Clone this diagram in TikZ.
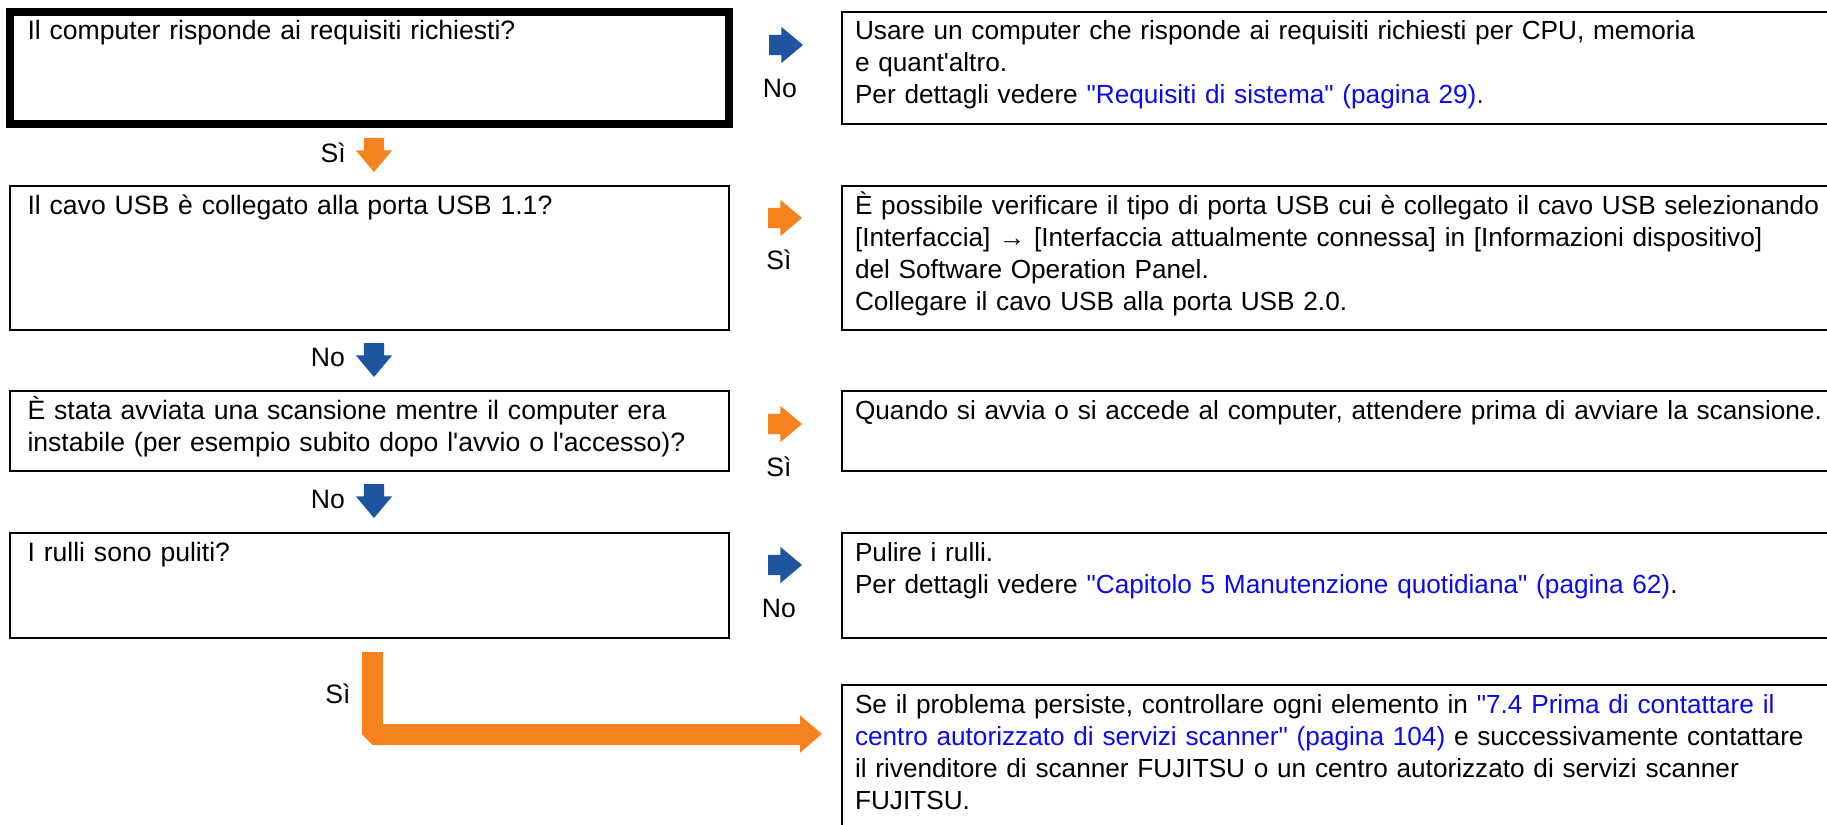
\documentclass[tikz,border=0pt]{standalone}
\usepackage{fontspec}
\setmainfont{Liberation Sans}[Ligatures=TeXOff]
\usepackage{xcolor}
\usetikzlibrary{positioning,arrows.meta,shapes.arrows}
\definecolor{fjblue}{RGB}{31,84,160}
\definecolor{fjorange}{RGB}{245,130,31}
\definecolor{linkblue}{RGB}{10,10,240}
\newcommand{\lnk}[1]{\textcolor{linkblue}{#1}}

\begin{document}
\begin{tikzpicture}[
  x=1pt, y=-1pt,
  font=\fontsize{26.6pt}{32pt}\selectfont,
  qbox/.style={draw, line width=2.8pt, outer sep=0pt, inner xsep=17.5pt, inner ysep=0pt, text width=684pt, text height=28pt, align=left},
  abox/.style={draw, line width=2.8pt, outer sep=0pt, inner xsep=13pt, inner ysep=0pt, text width=1068pt, text height=28pt, align=left, font=\fontsize{26.2pt}{32pt}\selectfont},
  fatarr/.style={single arrow, draw=none, inner xsep=0pt, inner ysep=10pt, outer sep=0pt, minimum height=34pt, minimum width=36pt, single arrow head extend=8pt, single arrow tip angle=80},
  downarr/.style={fatarr, shape border rotate=270, inner xsep=10pt, inner ysep=0pt},
  lbl/.style={inner sep=0pt, text height=19pt, text depth=0pt},
  bigarr/.style={fjorange, line width=21pt, line join=bevel, -{Triangle[width=36pt,length=22pt]}},
  ]
  \clip (0,0) rectangle (1827,824);

  % Questions
  \node[qbox, line width=8.5pt, text depth=84pt, anchor=north west] (q1) at (10,12) {Il computer risponde ai requisiti richiesti?};
  \node[qbox, text depth=116pt, below=62pt of q1] (q2) {Il cavo USB è collegato alla porta USB 1.1?};
  \node[qbox, text depth=52pt, below=61pt of q2] (q3) {È stata avviata una scansione mentre il computer era\\ instabile (per esempio subito dopo l'avvio o l'accesso)?};
  \node[qbox, text depth=77pt, below=62pt of q3] (q4) {I rulli sono puliti?};

  % Answers
  \node[abox, text depth=84pt, right=113pt of q1] (a1) {Usare un computer che risponde ai requisiti richiesti per CPU, memoria\\ e quant'altro.\\ Per dettagli vedere \lnk{"Requisiti di sistema" (pagina 29)}.};
  \node[abox, text depth=116pt, right=113pt of q2] (a2) {È possibile verificare il tipo di porta USB cui è collegato il cavo USB selezionando\\{}[Interfaccia] → [Interfaccia attualmente connessa] in [Informazioni dispositivo]\\ del Software Operation Panel.\\ Collegare il cavo USB alla porta USB 2.0.};
  \node[abox, text depth=52pt, right=113pt of q3] (a3) {Quando si avvia o si accede al computer, attendere prima di avviare la scansione.};
  \node[abox, text depth=77pt, right=113pt of q4] (a4) {Pulire i rulli.\\ Per dettagli vedere \lnk{"Capitolo 5 Manutenzione quotidiana" (pagina 62)}.};
  \node[abox, text depth=200pt, below=47pt of a4] (a5) {Se il problema persiste, controllare ogni elemento in \lnk{"7.4 Prima di contattare il}\\ \lnk{centro autorizzato di servizi scanner" (pagina 104)} e successivamente contattare\\ il rivenditore di scanner FUJITSU o un centro autorizzato di servizi scanner\\ FUJITSU.};

  % Side arrows
  \node[fatarr, fill=fjblue, anchor=tip] (no1) at (803,45) {};
  \node[lbl, below=33pt of no1.center] (nolab1) {No};
  \node[fatarr, fill=fjorange, anchor=tip] (si2) at (802,218) {};
  \node[lbl, below=32pt of si2.center] (silab2) {Sì};
  \node[fatarr, fill=fjorange, anchor=tip] (si3) at (802,424) {};
  \node[lbl, below=33pt of si3.center] (silab3) {Sì};
  \node[fatarr, fill=fjblue, anchor=tip] (no4) at (802,565) {};
  \node[lbl, below=33pt of no4.center] (nolab4) {No};

  % Down arrows
  \node[downarr, fill=fjorange, anchor=tip] (si1) at (374,172) {};
  \node[lbl, left=28pt of si1.tip, yshift=19pt] (silab1) {Sì};
  \node[downarr, fill=fjblue, anchor=tip] (no2) at (374,377) {};
  \node[lbl, left=29pt of no2.tip, yshift=20pt] (nolab2) {No};
  \node[downarr, fill=fjblue, anchor=tip] (no3) at (374,518) {};
  \node[lbl, left=29pt of no3.tip, yshift=19pt] (nolab3) {No};

  % Final branch
  \coordinate (ystart) at (372,652);
  \coordinate (ytip) at (822,734);
  \draw[bigarr] (ystart) -- (ystart |- ytip) -- (ytip);
  \node[lbl] (silab4) at (338,694) {Sì};
\end{tikzpicture}
\end{document}
